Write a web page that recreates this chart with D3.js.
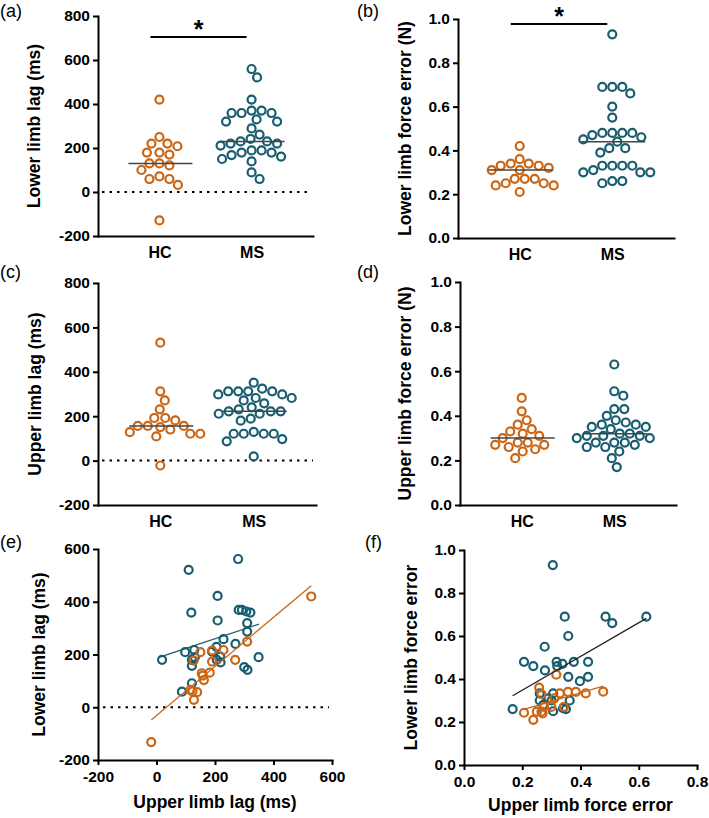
<!DOCTYPE html>
<html><head><meta charset="utf-8">
<script src="https://cdn.jsdelivr.net/npm/d3@7"></script>
<style>body{margin:0;background:#fff}</style>
</head><body>
<svg id="c" width="709" height="818"></svg>
<script>
// ---------- DATA ----------
const groups = ["HC", "MS"];
// (a) Lower limb lag (ms)
const lowerLagHC = [420,250,220,220,208,179,179,170,130,130,121,100,71,59,59,32,-129];
const lowerLagMS = [559,521,420,370,370,359,359,359,330,320,320,289,261,241,230,230,220,220,211,189,189,179,179,168,161,150,139,89,59];
// (b) Lower limb force error (N)
const lowerErrHC = [0.42,0.36,0.34,0.34,0.33,0.33,0.32,0.31,0.31,0.27,0.27,0.27,0.25,0.25,0.24,0.24,0.21];
const lowerErrMS = [0.93,0.69,0.69,0.69,0.66,0.60,0.55,0.48,0.48,0.48,0.48,0.47,0.46,0.45,0.44,0.41,0.41,0.39,0.33,0.33,0.33,0.33,0.31,0.30,0.30,0.30,0.26,0.26,0.25];
// (c) Upper limb lag (ms)
const upperLagHC = [531,312,271,231,192,192,181,156,156,156,151,140,128,121,121,109,-22];
const upperLagMS = [351,324,312,312,312,312,298,298,282,282,271,258,240,231,222,222,222,211,211,189,180,129,121,121,121,121,97,87,19];
// (d) Upper limb force error (N)
const upperErrHC = [0.48,0.42,0.38,0.36,0.34,0.33,0.32,0.31,0.30,0.28,0.28,0.27,0.27,0.26,0.25,0.24,0.21];
const upperErrMS = [0.63,0.51,0.49,0.43,0.43,0.40,0.38,0.37,0.36,0.36,0.35,0.35,0.34,0.32,0.32,0.31,0.31,0.31,0.30,0.30,0.28,0.28,0.28,0.27,0.26,0.26,0.24,0.21,0.17];
// (e) Upper lag (x) vs lower lag (y)
const eHC_x = [529,-18,310,269,229,190,150,127,190,155,182,162,158,116,139,128,123];
const eHC_y = [420,-132,249,180,217,215,209,177,173,129,131,103,120,66,57,28,60];
const eMS_x = [279,110,209,119,209,281,292,307,321,310,310,229,270,19,98,129,121,121,190,218,349,300,311,121,87,219,206,205,131];
const eMS_y = [562,521,422,359,329,369,369,363,359,319,287,258,240,180,209,217,180,157,211,192,190,152,142,91,59,170,180,229,190];
// (f) Upper force error (x) vs lower force error (y)
const fHC_x = [0.317,0.258,0.266,0.329,0.357,0.384,0.418,0.478,0.206,0.238,0.25,0.266,0.275,0.30,0.343,0.31,0.27];
const fHC_y = [0.42,0.36,0.33,0.333,0.34,0.34,0.333,0.341,0.243,0.21,0.248,0.248,0.27,0.27,0.27,0.31,0.24];
const fMS_x = [0.305,0.346,0.486,0.509,0.626,0.358,0.277,0.206,0.238,0.278,0.318,0.338,0.377,0.426,0.358,0.398,0.426,0.167,0.26,0.26,0.306,0.30,0.363,0.34,0.306,0.272,0.35,0.29,0.32];
const fMS_y = [0.93,0.69,0.69,0.66,0.69,0.60,0.55,0.48,0.46,0.44,0.48,0.47,0.48,0.48,0.41,0.39,0.41,0.26,0.333,0.30,0.333,0.30,0.30,0.264,0.25,0.28,0.26,0.31,0.46];
// regression fits: [xStart, xEnd, slope, intercept]
const fitE_HC = [-18, 529, 0.9305, -31.3];
const fitE_MS = [8, 350, 0.368, 186];
const fitF_HC = [0.206, 0.478, 0.40, 0.176];
const fitF_MS = [0.167, 0.626, 0.784, 0.191];
const lagTicks = [-200,0,200,400,600,800];
const lagTicksE = [-200,0,200,400,600];
const errTicks = [0,0.2,0.4,0.6,0.8,1.0];
const errTicksX = [0,0.2,0.4,0.6,0.8];

// ---------- STYLE ----------
const ORANGE = "#cc6514", TEAL = "#185d70";
const FONT = "Arial, 'Liberation Sans', sans-serif";
const R = 4, SW = 2.2;
const svg = d3.select("#c");
const fmtInt = d => d < 0 ? "-" + Math.abs(d) : String(d);
const fmt1 = d3.format(".1f");

function styleAxis(g, fs){
  g.attr("font-family", FONT);
  g.select(".domain").attr("stroke","#000").attr("stroke-width",2).attr("stroke-linecap","square");
  g.selectAll(".tick line").attr("stroke","#000").attr("stroke-width",2);
  g.selectAll(".tick text").attr("fill","#000").attr("font-size",fs).attr("font-weight","bold").attr("font-family",FONT);
}
function panelLabel(t,x,y){
  svg.append("text").attr("x",x).attr("y",y).attr("font-family",FONT).attr("font-size",18).text(t);
}
function yTitle(t,x,cy){
  svg.append("text").attr("transform",`translate(${x},${cy}) rotate(-90)`).attr("text-anchor","middle")
    .attr("dy","0.35em").attr("font-family",FONT).attr("font-size",17.5).attr("font-weight","bold").text(t);
}
function swarm(vals, cx, y, minD){
  const pts = vals.map(v => ({v, py: y(v)})).sort((a,b) => a.py - b.py);
  const placed = [];
  for (const p of pts){
    let off = 0;
    for (let k = 0; k < 600; k++){
      const c = k === 0 ? 0 : (k % 2 ? 1 : -1) * Math.ceil(k/2) * 0.5;
      if (placed.every(q => Math.hypot(q.px - (cx + c), q.py - p.py) >= minD)){ off = c; break; }
    }
    p.px = cx + off; placed.push(p);
  }
  return placed;
}
function circles(g, pts, color){
  g.selectAll(null).data(pts).enter().append("circle")
    .attr("cx", d => d.px).attr("cy", d => d.py).attr("r", R)
    .attr("fill","none").attr("stroke",color).attr("stroke-width",SW);
}
function zeroLine(g, x0, x1, yy){
  g.append("line").attr("x1",x0).attr("x2",x1).attr("y1",yy).attr("y2",yy)
    .attr("stroke","#000").attr("stroke-width",2).attr("stroke-dasharray","2.5,5");
}

function dotPanel(p){
  const g = svg.append("g");
  const y = d3.scaleLinear().domain(p.yDomain).range([p.yBot, p.yTop]);
  const x = d3.scalePoint().domain(groups).range([p.x0, p.x1]).padding(2/3);
  if (p.yDomain[0] < 0) zeroLine(g, p.x0 + 4, p.x1 - 3, y(0));
  [[p.hc, ORANGE, "HC"], [p.ms, TEAL, "MS"]].forEach(([vals, col, grp]) => {
    const pts = swarm(vals, x(grp), y, 10);
    circles(g, pts, col);
    const m = d3.median(vals);
    g.append("line").attr("x1", x(grp) - 31).attr("x2", x(grp) + 33)
      .attr("y1", y(m)).attr("y2", y(m)).attr("stroke","#444").attr("stroke-width",1.5);
  });
  g.append("g").attr("transform",`translate(${p.x0},0)`)
    .call(d3.axisLeft(y).tickValues(p.ticks).tickFormat(p.fmt).tickSize(5).tickSizeOuter(0).tickPadding(3))
    .call(a => styleAxis(a, 15.5));
  g.append("g").attr("transform",`translate(0,${p.yBot})`)
    .call(d3.axisBottom(x).tickSize(0).tickSizeOuter(0).tickPadding(10.5))
    .call(a => styleAxis(a, 16));
  if (p.sig){
    const yb = p.sigY;
    g.append("line").attr("x1", x("HC") - 9).attr("x2", x("MS") - 5).attr("y1", yb).attr("y2", yb)
      .attr("stroke","#000").attr("stroke-width",2.2);
    g.append("text").attr("x", (x("HC") + x("MS")) / 2 - 7).attr("y", yb + 1).attr("text-anchor","middle")
      .attr("font-family",FONT).attr("font-weight","bold").attr("font-size",25).text("*");
  }
  yTitle(p.title, p.tx, (p.yTop + p.yBot) / 2);
  panelLabel(p.label, p.lx, p.ly);
}

function scatterPanel(p){
  const g = svg.append("g");
  const x = d3.scaleLinear().domain(p.xDomain).range([p.x0, p.x1]);
  const y = d3.scaleLinear().domain(p.yDomain).range([p.yBot, p.yTop]);
  if (p.yDomain[0] < 0) zeroLine(g, p.x0 + 5, p.x1 - 3, y(0));
  const ms = p.msx.map((v,i) => ({px: x(v), py: y(p.msy[i])}));
  const hc = p.hcx.map((v,i) => ({px: x(v), py: y(p.hcy[i])}));
  circles(g, ms, TEAL);
  circles(g, hc, ORANGE);
  [[p.fitMS, p.fitMSColor], [p.fitHC, ORANGE]].forEach(([f, col]) => {
    g.append("line").attr("x1", x(f[0])).attr("x2", x(f[1]))
      .attr("y1", y(f[2]*f[0] + f[3])).attr("y2", y(f[2]*f[1] + f[3]))
      .attr("stroke", col).attr("stroke-width", 1.3);
  });
  g.append("g").attr("transform",`translate(${p.x0},0)`)
    .call(d3.axisLeft(y).tickValues(p.yTicks).tickFormat(p.fmt).tickSize(5).tickSizeOuter(0).tickPadding(3))
    .call(a => styleAxis(a, 15.5));
  g.append("g").attr("transform",`translate(0,${p.yBot})`)
    .call(d3.axisBottom(x).tickValues(p.xTicks).tickFormat(p.fmt).tickSize(5).tickSizeOuter(0).tickPadding(6))
    .call(a => styleAxis(a, 15.5));
  yTitle(p.ytitle, p.tx, (p.yTop + p.yBot) / 2);
  svg.append("text").attr("x", (p.x0 + p.x1) / 2).attr("y", p.xty).attr("text-anchor","middle")
    .attr("font-family",FONT).attr("font-size",17.5).attr("font-weight","bold").text(p.xtitle);
  panelLabel(p.label, p.lx, p.ly);
}

dotPanel({label:"(a)", lx:0, ly:17, x0:98, x1:313, yTop:16, yBot:236, yDomain:[-200,800], ticks:lagTicks, fmt:fmtInt,
  hc:lowerLagHC, ms:lowerLagMS, title:"Lower limb lag (ms)", tx:34, sig:true, sigY:37});
dotPanel({label:"(b)", lx:357, ly:17, x0:458, x1:674, yTop:19, yBot:238, yDomain:[0,1], ticks:errTicks, fmt:fmt1,
  hc:lowerErrHC, ms:lowerErrMS, title:"Lower limb force error (N)", tx:405, sig:true, sigY:24});
dotPanel({label:"(c)", lx:0, ly:278, x0:98, x1:316, yTop:283, yBot:505, yDomain:[-200,800], ticks:lagTicks, fmt:fmtInt,
  hc:upperLagHC, ms:upperLagMS, title:"Upper limb lag (ms)", tx:35, sig:false});
dotPanel({label:"(d)", lx:357, ly:278, x0:460, x1:676, yTop:282, yBot:505, yDomain:[0,1], ticks:errTicks, fmt:fmt1,
  hc:upperErrHC, ms:upperErrMS, title:"Upper limb force error (N)", tx:405, sig:false});
scatterPanel({label:"(e)", lx:0, ly:548, x0:98, x1:332, yTop:549, yBot:760, xDomain:[-200,600], yDomain:[-200,600],
  xTicks:lagTicksE, yTicks:lagTicksE, fmt:fmtInt, hcx:eHC_x, hcy:eHC_y, msx:eMS_x, msy:eMS_y,
  fitHC:fitE_HC, fitMS:fitE_MS, fitMSColor:TEAL, ytitle:"Lower limb lag (ms)", tx:39, xtitle:"Upper limb lag (ms)", xty:808});
scatterPanel({label:"(f)", lx:365, ly:548, x0:464, x1:697, yTop:550, yBot:765, xDomain:[0,0.8], yDomain:[0,1],
  xTicks:errTicksX, yTicks:errTicks, fmt:fmt1, hcx:fHC_x, hcy:fHC_y, msx:fMS_x, msy:fMS_y,
  fitHC:fitF_HC, fitMS:fitF_MS, fitMSColor:"#222", ytitle:"Lower limb force error", tx:411, xtitle:"Upper limb force error", xty:811});
</script>
</body></html>
